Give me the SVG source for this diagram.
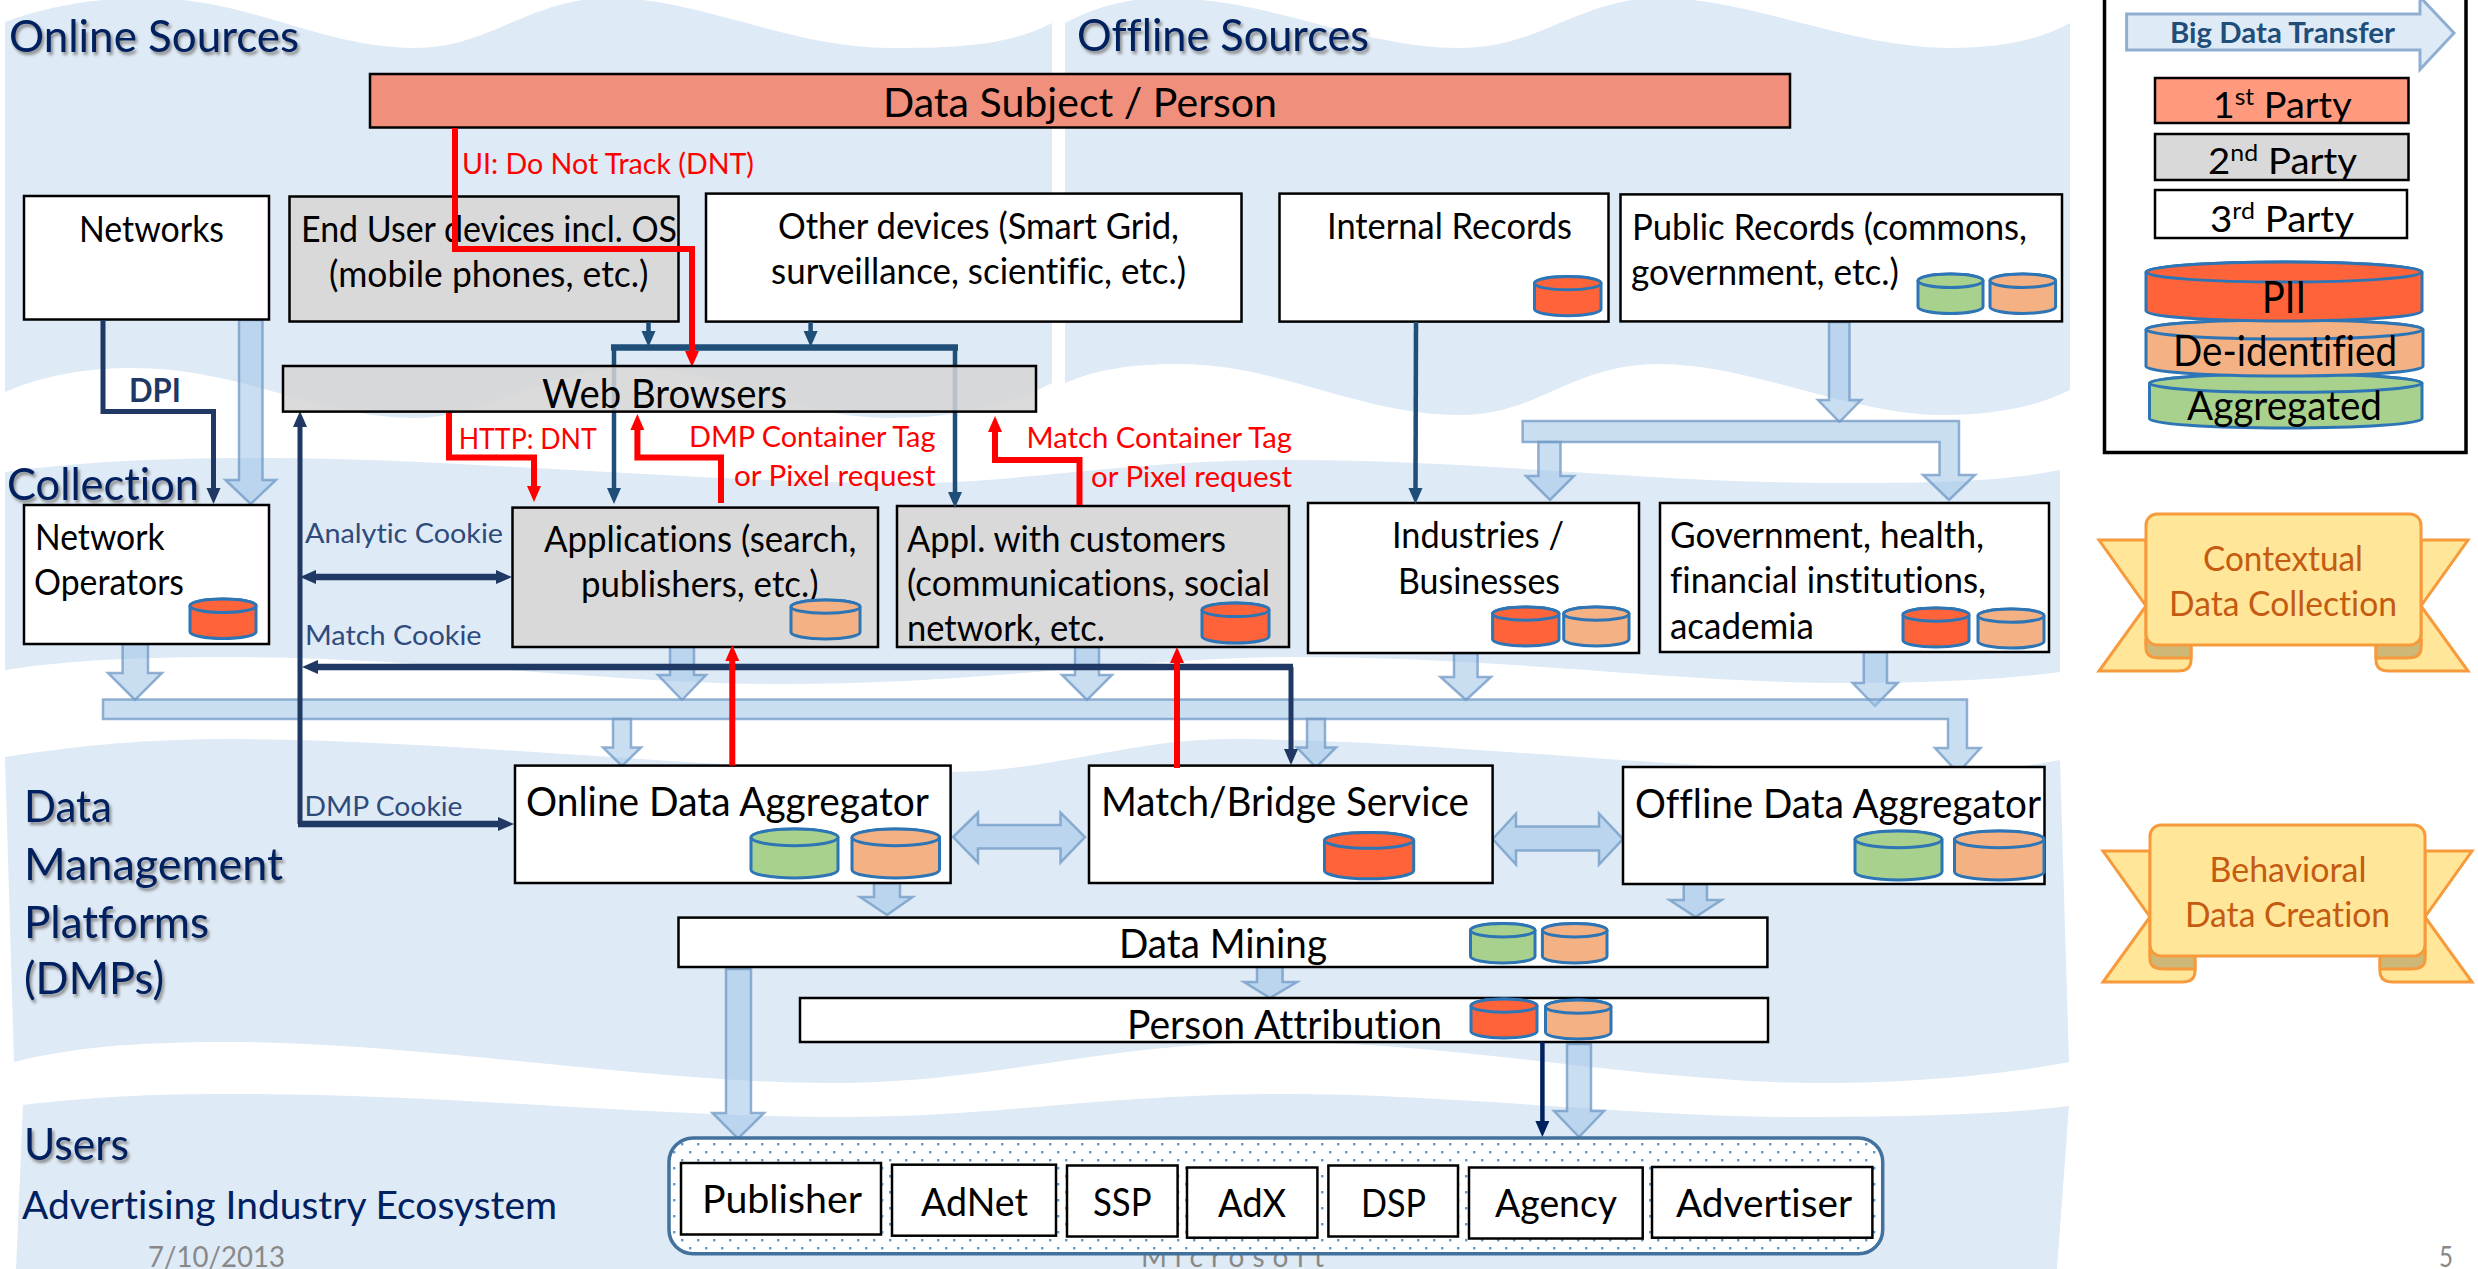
<svg xmlns="http://www.w3.org/2000/svg" width="2478" height="1269" viewBox="0 0 2478 1269">
<defs>
<style>
text{font-family:Lato,"Open Sans","Liberation Sans",sans-serif;fill:#000;font-size:36px;font-variant-ligatures:none;transform:translateY(1px)}
.big{font-size:41px}
.u{font-size:39px}
.h{font-size:45px;fill:#002060;filter:drop-shadow(2px 3px 1.5px #8a8a8a)}
.red{font-size:28px;fill:#f00}
.ck{font-size:27px;fill:#2F4B7C}
.rb{font-size:35px;fill:#C55A11}
.ft{font-size:28px;fill:#898989}
.lg{font-size:37px}
.sup{font-size:24px}
.band{fill:#DEEAF6}
.w{fill:#fff;stroke:#000;stroke-width:2.5}
.g{fill:#D9D9D9;stroke:#000;stroke-width:2.5}
.ba{fill:#9DC3E6;fill-opacity:.55;stroke:#6F98C4;stroke-opacity:.75;stroke-width:2.5}
.c{fill:none}
.navy{stroke:#1F3864;stroke-width:5}
.navy6{stroke:#1F3864;stroke-width:6.5}
.steel{stroke:#1F4E79;stroke-width:4.5}
.steel6{stroke:#1F4E79;stroke-width:6.5}
.dk{stroke:#002060;stroke-width:4.5}
.rd{stroke:#f00;stroke-width:6}
.pii{fill:#FF6339}
.pe{fill:#F4B183}
.gr{fill:#A9D18E}
.cy{stroke:#2E75B6;stroke-width:3;vector-effect:non-scaling-stroke}
.rib{fill:#FFE699;stroke:#F79A3C;stroke-width:3}
.fold{fill:#CDB878;stroke:#F79A3C;stroke-width:3}
</style>
<symbol id="cyl" viewBox="0 0 100 100" preserveAspectRatio="none" overflow="visible">
<path class="cy" d="M0,17A50,17 0 0 1 100,17V83A50,17 0 0 1 0,83Z"/>
<ellipse class="cy" cx="50" cy="17" rx="50" ry="17"/>
</symbol>
<symbol id="ribbon" viewBox="0 0 2478 1269" width="2478" height="1269" overflow="visible">
<path class="rib" d="M2146,540H2099L2146,606L2099,671H2178Q2191,671 2191,660V645H2146Z"/>
<path class="rib" d="M2421,540H2468L2421,606L2468,671H2389Q2376,671 2376,660V645H2421Z"/>
<path class="fold" d="M2146,640V648Q2146,658 2160,658H2191V640Z"/>
<path class="fold" d="M2421,640V648Q2421,658 2407,658H2376V640Z"/>
<rect class="rib" x="2146" y="514" width="275" height="131" rx="11"/>
</symbol>
<pattern id="dots" patternUnits="userSpaceOnUse" x="713" y="1143" width="16" height="16">
<rect width="16" height="16" fill="#fff"/>
<rect width="2.4" height="2.4" fill="#5B9BD5"/>
<rect x="8" y="8" width="2.4" height="2.4" fill="#5B9BD5"/>
</pattern>
<marker id="mNavy" viewBox="0 0 16 14" refX="2" refY="7" markerWidth="16" markerHeight="15" markerUnits="userSpaceOnUse" orient="auto-start-reverse"><path d="M0,0L16,7L0,14Z" fill="#1F3864"/></marker>
<marker id="mSteel" viewBox="0 0 16 14" refX="2" refY="7" markerWidth="16" markerHeight="15" markerUnits="userSpaceOnUse" orient="auto-start-reverse"><path d="M0,0L16,7L0,14Z" fill="#1F4E79"/></marker>
<marker id="mDk" viewBox="0 0 16 14" refX="2" refY="7" markerWidth="16" markerHeight="15" markerUnits="userSpaceOnUse" orient="auto-start-reverse"><path d="M0,0L16,7L0,14Z" fill="#002060"/></marker>
<marker id="mRed" viewBox="0 0 16 14" refX="2" refY="7" markerWidth="16" markerHeight="15" markerUnits="userSpaceOnUse" orient="auto-start-reverse"><path d="M0,0L16,7L0,14Z" fill="#f00"/></marker>
</defs>
<rect width="2478" height="1269" fill="#fff"/>
<g id="bands">
<path class="band" d="M5,22C50,5 100,-2 147,-2C250,-2 320,48 415,48C490,48 530,-2 610,-2C700,-2 790,48 890,48C960,48 1010,45 1052,23V383C1010,405 960,418 890,418C790,418 720,368 636,368C540,368 490,418 415,418C320,418 240,368 134,368C85,368 45,375 5,392Z"/>
<path class="band" d="M1065,23C1100,5 1130,-2 1165,-2C1270,-2 1360,48 1460,48C1540,48 1580,-2 1660,-2C1750,-2 1850,48 1950,48C2000,48 2040,40 2070,23V390C2040,405 2000,415 1942,415C1850,415 1750,364 1660,364C1570,364 1540,415 1460,415C1360,415 1280,364 1178,364C1130,364 1095,370 1065,383Z"/>
<path class="band" d="M5,472C80,462 150,458 268,458C450,458 700,483 910,483C1020,483 1130,460 1290,460C1480,460 1650,483 1835,483C1930,483 2000,482 2060,470V672C2000,680 1930,683 1848,683C1680,683 1500,657 1300,657C1130,657 990,684 777,684C620,684 420,657 228,657C140,657 70,660 5,670Z"/>
<path class="band" d="M5,757C80,745 150,739 228,739C450,739 720,772 950,772C1050,772 1130,739 1232,739C1430,739 1680,772 1900,772C1970,772 2020,768 2060,760L2069,1062C2000,1075 1910,1083 1821,1083C1650,1083 1450,1042 1286,1042C1100,1042 1000,1083 830,1083C650,1083 420,1042 228,1042C130,1042 70,1048 14,1062Z"/>
<path class="band" d="M23,1105C90,1097 150,1094 228,1094C450,1094 650,1117 843,1117C1000,1117 1100,1094 1286,1094C1450,1094 1640,1117 1794,1117C1900,1117 2000,1115 2069,1106L2057,1269H16Z"/>
</g>
<text class="h" x="9" y="51" textLength="290" lengthAdjust="spacingAndGlyphs">Online Sources</text>
<text class="h" x="1077" y="50" textLength="292" lengthAdjust="spacingAndGlyphs">Offline Sources</text>
<text class="h" x="7" y="499" textLength="192" lengthAdjust="spacingAndGlyphs">Collection</text>
<text class="h" x="24" y="821" textLength="88" lengthAdjust="spacingAndGlyphs">Data</text>
<text class="h" x="24" y="879" textLength="259" lengthAdjust="spacingAndGlyphs">Management</text>
<text class="h" x="24" y="937" textLength="185" lengthAdjust="spacingAndGlyphs">Platforms</text>
<text class="h" x="24" y="993" textLength="140" lengthAdjust="spacingAndGlyphs">(DMPs)</text>
<text class="h" x="24" y="1159" textLength="105" lengthAdjust="spacingAndGlyphs">Users</text>
<text x="22" y="1218" textLength="535" lengthAdjust="spacingAndGlyphs" style="font-size:39px;fill:#002060">Advertising Industry Ecosystem</text>
<text class="ft" x="148" y="1266" textLength="137" lengthAdjust="spacingAndGlyphs">7/10/2013</text>
<text class="ft" x="1141" y="1266" textLength="183" lengthAdjust="spacing">Microsoft</text>
<text class="ft" x="2439" y="1266" textLength="14" lengthAdjust="spacingAndGlyphs">5</text>

<g id="transfers">
<polygon class="ba" points="239,320 262.5,320 262.5,480 276,480 250.7,504 225.4,480 239,480"/>
<polygon class="ba" points="1829,322 1849.5,322 1849.5,400 1861,400 1839.5,422 1818,400 1829,400"/>
<path class="ba" d="M1522.6,421H1959V475H1975L1949,500L1923,475H1939.5V442H1522.6Z"/>
<polygon class="ba" points="1538.4,442 1560.5,442 1560.5,476 1574,476 1550,500 1526,476 1538.4,476"/>
<polygon class="ba" points="122.6,644 148,644 148,673 162,673 135,700 108,673 122.6,673"/>
<polygon class="ba" points="670,647 694,647 694,675 706,675 682,700 658,675 670,675"/>
<polygon class="ba" points="1075,647 1099,647 1099,675 1112,675 1087,700 1062,675 1075,675"/>
<polygon class="ba" points="1454,653 1477.6,653 1477.6,677 1491,677 1466,700 1440.5,677 1454,677"/>
<polygon class="ba" points="1863.7,652 1887,652 1887,683 1897.7,683 1875,706 1852.7,683 1863.7,683"/>
<path class="ba" d="M103,699.4H1967V748H1980.6L1958,773L1935,748H1948V719H103Z"/>
<polygon class="ba" points="613,719 631,719 631,747.5 641,747.5 622,766 603,747.5 613,747.5"/>
<polygon class="ba" points="1307,719 1325,719 1325,747.5 1336,747.5 1316,767.5 1297,747.5 1307,747.5"/>
<polygon class="ba" points="953,837 978,812.5 978,825 1060.5,825 1060.5,812.5 1085,837 1060.5,862.6 1060.5,848.6 978,848.6 978,862.6"/>
<polygon class="ba" points="1492.6,839 1516,813.7 1516,826.5 1599,826.5 1599,813.7 1623,839 1599,864.6 1599,850.6 1516,850.6 1516,864.6"/>
<polygon class="ba" points="874,883 900,883 900,897 912.6,897 887,915 860,897 874,897"/>
<polygon class="ba" points="1683.7,884 1707,884 1707,900 1721.6,900 1695.5,917 1669.5,900 1683.7,900"/>
<polygon class="ba" points="1257,967 1282.6,967 1282.6,982 1297,982 1270,998 1244,982 1257,982"/>
<polygon class="ba" points="726,969 751,969 751,1113 764,1113 738,1138.6 712.5,1113 726,1113"/>
<polygon class="ba" points="1567,1044 1591,1044 1591,1111 1604,1111 1579,1137 1554,1111 1567,1111"/>
</g>

<g id="data-subject"><rect x="370" y="74" width="1420" height="53.5" fill="#F08F7B" stroke="#000" stroke-width="2.5"/><text class="big" x="883" y="116" textLength="394" lengthAdjust="spacingAndGlyphs">Data Subject / Person</text></g>
<g id="networks"><rect class="w" x="24" y="196" width="245" height="123.5"/><text x="79" y="241" textLength="145" lengthAdjust="spacingAndGlyphs">Networks</text></g>
<g id="end-user"><rect class="g" x="289.5" y="196.5" width="389" height="125"/><text x="301" y="241" textLength="376" lengthAdjust="spacingAndGlyphs">End User devices incl. OS</text><text x="329" y="286" textLength="319.5" lengthAdjust="spacingAndGlyphs">(mobile phones, etc.)</text></g>
<g id="other-devices"><rect class="w" x="706" y="193.6" width="535.5" height="128"/><text x="778" y="238" textLength="401" lengthAdjust="spacingAndGlyphs">Other devices (Smart Grid,</text><text x="771" y="283" textLength="415" lengthAdjust="spacingAndGlyphs">surveillance, scientific, etc.)</text></g>
<g id="internal-records"><rect class="w" x="1279.5" y="193.6" width="329" height="128"/><text x="1327" y="238" textLength="245" lengthAdjust="spacingAndGlyphs">Internal Records</text><use href="#cyl" class="pii" x="1534.5" y="276.5" width="66.5" height="39.2"/></g>
<g id="public-records"><rect class="w" x="1620.5" y="194.4" width="441.5" height="127"/><text x="1632" y="239" textLength="395" lengthAdjust="spacingAndGlyphs">Public Records (commons,</text><text x="1631" y="284" textLength="268" lengthAdjust="spacingAndGlyphs">government, etc.)</text><use href="#cyl" class="gr" x="1918" y="274" width="65" height="39.5"/><use href="#cyl" class="pe" x="1990" y="274" width="65.6" height="39.5"/></g>
<g id="network-operators"><rect class="w" x="24" y="505" width="245" height="139"/><text x="35" y="549" textLength="129.5" lengthAdjust="spacingAndGlyphs">Network</text><text x="34" y="594" textLength="150" lengthAdjust="spacingAndGlyphs">Operators</text><use href="#cyl" class="pii" x="190" y="599" width="66" height="39.5"/></g>
<g id="applications"><rect class="g" x="512.5" y="507.6" width="365.5" height="139.4"/><text x="544" y="551" textLength="312.5" lengthAdjust="spacingAndGlyphs">Applications (search,</text><text x="581" y="596" textLength="237.5" lengthAdjust="spacingAndGlyphs">publishers, etc.)</text><use href="#cyl" class="pe" x="791" y="600" width="69" height="39"/></g>
<g id="appl-customers"><rect class="g" x="897" y="506" width="392" height="141"/><text x="907" y="550.5" textLength="319" lengthAdjust="spacingAndGlyphs">Appl. with customers</text><text x="907" y="595" textLength="363" lengthAdjust="spacingAndGlyphs">(communications, social</text><text x="907" y="640" textLength="198" lengthAdjust="spacingAndGlyphs">network, etc.</text><use href="#cyl" class="pii" x="1202" y="603" width="67" height="40"/></g>
<g id="industries"><rect class="w" x="1308" y="503" width="331" height="150"/><text x="1392" y="547" textLength="172" lengthAdjust="spacingAndGlyphs">Industries /</text><text x="1398" y="592.6" textLength="162" lengthAdjust="spacingAndGlyphs">Businesses</text><use href="#cyl" class="pii" x="1492.6" y="607" width="66.4" height="39"/><use href="#cyl" class="pe" x="1563.7" y="607" width="65.3" height="39"/></g>
<g id="government"><rect class="w" x="1660" y="503" width="389" height="149"/><text x="1670" y="547" textLength="314" lengthAdjust="spacingAndGlyphs">Government, health,</text><text x="1670" y="592" textLength="316" lengthAdjust="spacingAndGlyphs">financial institutions,</text><text x="1670" y="637.6" textLength="144" lengthAdjust="spacingAndGlyphs">academia</text><use href="#cyl" class="pii" x="1903" y="608" width="66" height="39"/><use href="#cyl" class="pe" x="1978" y="609" width="66" height="39"/></g>
<g id="online-aggregator"><rect class="w" x="515" y="765.6" width="435.6" height="117.4"/><text class="big" x="526" y="815" textLength="403" lengthAdjust="spacingAndGlyphs">Online Data Aggregator</text><use href="#cyl" class="gr" x="751" y="829" width="87" height="49"/><use href="#cyl" class="pe" x="852" y="829" width="87.5" height="49"/></g>
<g id="match-bridge"><rect class="w" x="1089" y="765.6" width="403.6" height="117.4"/><text class="big" x="1101" y="815" textLength="368" lengthAdjust="spacingAndGlyphs">Match/Bridge Service</text><use href="#cyl" class="pii" x="1324.5" y="832.5" width="89.2" height="46.2"/></g>
<g id="offline-aggregator"><rect class="w" x="1623" y="767" width="421.5" height="117"/><text class="big" x="1635" y="816.5" textLength="406" lengthAdjust="spacingAndGlyphs">Offline Data Aggregator</text><use href="#cyl" class="gr" x="1855" y="831" width="87" height="49"/><use href="#cyl" class="pe" x="1954.5" y="831" width="89.5" height="49"/></g>
<g id="data-mining"><rect class="w" x="678.5" y="917.6" width="1088.9" height="49.4"/><text class="big" x="1119" y="957" textLength="208" lengthAdjust="spacingAndGlyphs">Data Mining</text><use href="#cyl" class="gr" x="1470.5" y="923.6" width="64.5" height="39.4"/><use href="#cyl" class="pe" x="1542.4" y="923.6" width="64.6" height="39.4"/></g>
<g id="person-attribution"><rect class="w" x="800" y="998" width="968" height="44"/><text class="big" x="1127" y="1038" textLength="315" lengthAdjust="spacingAndGlyphs">Person Attribution</text><use href="#cyl" class="pii" x="1471" y="999" width="66" height="39"/><use href="#cyl" class="pe" x="1545.5" y="1000" width="65.5" height="39"/></g>

<g id="users-ecosystem"><rect x="669" y="1138" width="1213.7" height="115.7" rx="24" fill="url(#dots)" stroke="#41719C" stroke-width="3.5"/></g>
<g id="publisher"><rect class="w" x="681" y="1163" width="200" height="71.5"/><text class="u" x="702" y="1212" textLength="160" lengthAdjust="spacingAndGlyphs">Publisher</text></g>
<g id="adnet"><rect class="w" x="892" y="1164.7" width="164" height="71"/><text class="u" x="921" y="1215" textLength="107" lengthAdjust="spacingAndGlyphs">AdNet</text></g>
<g id="ssp"><rect class="w" x="1067" y="1165.5" width="110.6" height="71"/><text class="u" x="1093" y="1215" textLength="58.5" lengthAdjust="spacingAndGlyphs">SSP</text></g>
<g id="adx"><rect class="w" x="1187" y="1167.5" width="130.4" height="70.2"/><text class="u" x="1218" y="1215.6" textLength="68" lengthAdjust="spacingAndGlyphs">AdX</text></g>
<g id="dsp"><rect class="w" x="1328.4" y="1165.5" width="129.6" height="71"/><text class="u" x="1361" y="1215.6" textLength="65" lengthAdjust="spacingAndGlyphs">DSP</text></g>
<g id="agency"><rect class="w" x="1469" y="1167.5" width="173.7" height="71"/><text class="u" x="1495" y="1216" textLength="122" lengthAdjust="spacingAndGlyphs">Agency</text></g>
<g id="advertiser"><rect class="w" x="1652" y="1167" width="220.4" height="70.7"/><text class="u" x="1676" y="1216" textLength="176" lengthAdjust="spacingAndGlyphs">Advertiser</text></g>

<g id="connectors">
<path class="c navy" d="M103,320V411.6H213.5V490" marker-end="url(#mNavy)"/>
<path class="c steel" d="M648.5,322V333" marker-end="url(#mSteel)"/>
<path class="c steel" d="M810.6,322V333" marker-end="url(#mSteel)"/>
<path class="c steel6" d="M611,347.6H958"/>
<path class="c steel" d="M614,348V490" marker-end="url(#mSteel)"/>
<path class="c steel" d="M955,348V494" marker-end="url(#mSteel)"/>
<path class="c steel" d="M1416,322L1415.5,490" marker-end="url(#mSteel)"/>
<path class="c navy" d="M300,824V425" marker-end="url(#mNavy)"/>
<path class="c navy6" d="M314,577H498" marker-start="url(#mNavy)" marker-end="url(#mNavy)"/>
<path class="c navy6" d="M316,667H1293" marker-start="url(#mNavy)"/>
<path class="c navy" d="M1291,667V751" marker-end="url(#mNavy)"/>
<path class="c navy6" d="M298,824H500" marker-end="url(#mNavy)"/>
<path class="c dk" d="M1542.4,1042V1123" marker-end="url(#mDk)"/>
<path class="c rd" d="M455,128V249H692V353" marker-end="url(#mRed)"/>
<path class="c rd" d="M449,411V457.5H534V488" marker-end="url(#mRed)"/>
<path class="c rd" d="M721,503V457.5H637.4V428" marker-end="url(#mRed)"/>
<path class="c rd" d="M1079.5,505V460H995V430" marker-end="url(#mRed)"/>
<path class="c rd" d="M732.3,765.6V659" marker-end="url(#mRed)"/>
<path class="c rd" d="M1177,768V661" marker-end="url(#mRed)"/>
<text class="red" x="462" y="173" textLength="292" lengthAdjust="spacingAndGlyphs">UI: Do Not Track (DNT)</text>
<text class="red" x="458.7" y="448" textLength="138" lengthAdjust="spacingAndGlyphs">HTTP: DNT</text>
<text class="red" x="689" y="446" textLength="246.5" lengthAdjust="spacingAndGlyphs">DMP Container Tag</text>
<text class="red" x="734" y="485" textLength="201.5" lengthAdjust="spacingAndGlyphs">or Pixel request</text>
<text class="red" x="1026.5" y="447" textLength="265.5" lengthAdjust="spacingAndGlyphs">Match Container Tag</text>
<text class="red" x="1091" y="486" textLength="201" lengthAdjust="spacingAndGlyphs">or Pixel request</text>
<text class="ck" x="305" y="541.6" textLength="198" lengthAdjust="spacingAndGlyphs">Analytic Cookie</text>
<text class="ck" x="305" y="644" textLength="176.6" lengthAdjust="spacingAndGlyphs">Match Cookie</text>
<text class="ck" x="304.5" y="814.5" textLength="158" lengthAdjust="spacingAndGlyphs">DMP Cookie</text>
<text x="129" y="401" textLength="52" lengthAdjust="spacingAndGlyphs" style="font-size:32px;font-weight:700;fill:#1F3864">DPI</text>
</g>

<g id="web-browsers"><rect x="283" y="366" width="753" height="45.6" fill="#D5D5D5" fill-opacity=".85" stroke="#000" stroke-width="2.5"/><text class="big" x="542" y="407" textLength="245" lengthAdjust="spacingAndGlyphs">Web Browsers</text></g>

<g id="legend">
<rect x="2104.5" y="-4" width="361.5" height="456.5" fill="#fff" stroke="#000" stroke-width="3.5"/>
<path d="M2126.6,14H2420V-3L2454,33L2420,69.5V50H2126.6Z" fill="#DEEAF6" stroke="#8FAFD2" stroke-width="3"/>
<text x="2170" y="42" textLength="225" lengthAdjust="spacingAndGlyphs" style="font-size:29px;font-weight:700;fill:#1F4E79">Big Data Transfer</text>
<rect x="2155" y="78" width="253.5" height="45" fill="#FF9A7F" stroke="#000" stroke-width="2.5"/>
<text class="lg" x="2212.7" y="117" textLength="139" lengthAdjust="spacingAndGlyphs">1<tspan class="sup" dy="-13">st</tspan><tspan dy="13"> Party</tspan></text>
<rect class="g" x="2155" y="134" width="253.5" height="46"/>
<text class="lg" x="2208" y="172.5" textLength="149" lengthAdjust="spacingAndGlyphs">2<tspan class="sup" dy="-13">nd</tspan><tspan dy="13"> Party</tspan></text>
<rect class="w" x="2155" y="190" width="252" height="48"/>
<text class="lg" x="2210" y="230.6" textLength="144" lengthAdjust="spacingAndGlyphs">3<tspan class="sup" dy="-13">rd</tspan><tspan dy="13"> Party</tspan></text>
<use href="#cyl" class="gr" x="2149.5" y="374" width="272.5" height="54"/>
<use href="#cyl" class="pe" x="2146" y="320" width="277" height="56"/>
<use href="#cyl" class="pii" x="2146" y="262" width="276" height="59"/>
<text x="2262" y="312" textLength="44" lengthAdjust="spacingAndGlyphs" style="font-size:44px">PII</text>
<text x="2173" y="365" textLength="224" lengthAdjust="spacingAndGlyphs" style="font-size:42px">De-identified</text>
<text x="2187" y="419" textLength="195" lengthAdjust="spacingAndGlyphs" style="font-size:40px">Aggregated</text>
</g>
<g id="ribbon-contextual"><use href="#ribbon"/><text class="rb" x="2203" y="570" textLength="160" lengthAdjust="spacingAndGlyphs">Contextual</text><text class="rb" x="2169" y="615" textLength="228" lengthAdjust="spacingAndGlyphs">Data Collection</text></g>
<g id="ribbon-behavioral"><use href="#ribbon" x="4" y="311"/><text class="rb" x="2209.5" y="881" textLength="157" lengthAdjust="spacingAndGlyphs">Behavioral</text><text class="rb" x="2185" y="925.6" textLength="205" lengthAdjust="spacingAndGlyphs">Data Creation</text></g>
</svg>
